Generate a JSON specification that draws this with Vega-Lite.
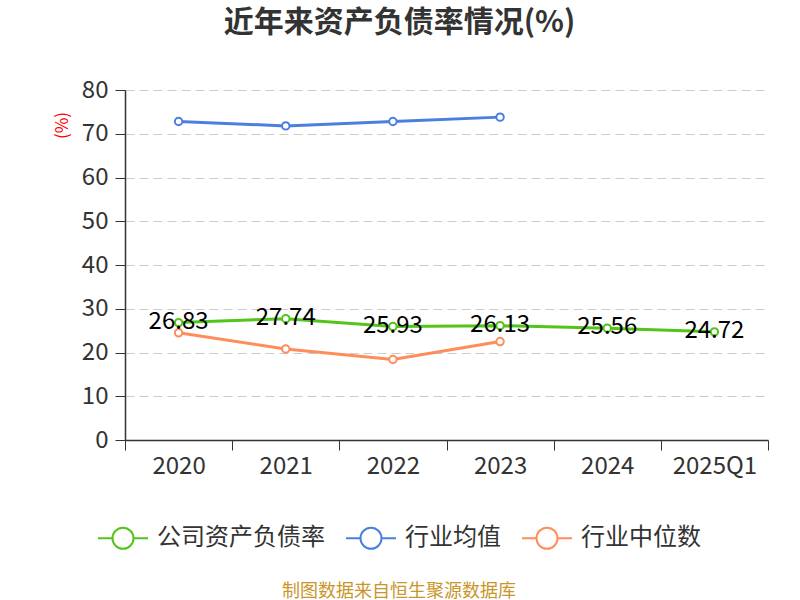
{
  "$schema": "https://vega.github.io/schema/vega-lite/v6.json",
  "width": 643,
  "height": 350,
  "autosize": {"type": "none"},
  "padding": {"left": 125, "top": 90, "right": 32, "bottom": 160},
  "title": {
    "text": "近年来资产负债率情况(%)",
    "fontSize": 30,
    "fontWeight": "bold",
    "color": "#333333",
    "anchor": "middle",
    "frame": "group",
    "dx": -47,
    "offset": 40
  },
  "data": {
    "values": [
      {"year": "2020", "series": "公司资产负债率", "value": 26.83},
      {"year": "2021", "series": "公司资产负债率", "value": 27.74},
      {"year": "2022", "series": "公司资产负债率", "value": 25.93},
      {"year": "2023", "series": "公司资产负债率", "value": 26.13},
      {"year": "2024", "series": "公司资产负债率", "value": 25.56},
      {"year": "2025Q1", "series": "公司资产负债率", "value": 24.72},
      {"year": "2020", "series": "行业均值", "value": 72.8},
      {"year": "2021", "series": "行业均值", "value": 71.8},
      {"year": "2022", "series": "行业均值", "value": 72.8},
      {"year": "2023", "series": "行业均值", "value": 73.8},
      {"year": "2020", "series": "行业中位数", "value": 24.5},
      {"year": "2021", "series": "行业中位数", "value": 20.8},
      {"year": "2022", "series": "行业中位数", "value": 18.4},
      {"year": "2023", "series": "行业中位数", "value": 22.5}
    ]
  },
  "encoding": {
    "x": {
      "field": "year",
      "type": "ordinal",
      "bandPosition": 0.5,
      "scale": {"type": "band", "paddingInner": 0, "paddingOuter": 0},
      "axis": {
        "title": null,
        "labelAngle": 0,
        "labelFontSize": 24,
        "labelColor": "#333333",
        "labelPadding": 4,
        "tickBand": "extent",
        "tickSize": 10,
        "tickColor": "#333333",
        "domainColor": "#333333",
        "domainWidth": 1.5,
        "grid": false
      }
    },
    "y": {
      "field": "value",
      "type": "quantitative",
      "scale": {"domain": [0, 80]},
      "axis": {
        "title": "(%)",
        "titleColor": "red",
        "titleFontSize": 17,
        "titleFontWeight": "normal",
        "titleX": -54,
        "titleY": 35,
        "titleAngle": -90,
        "values": [0, 10, 20, 30, 40, 50, 60, 70, 80],
        "labelFontSize": 24,
        "labelColor": "#333333",
        "labelPadding": 7,
        "tickSize": 10,
        "tickColor": "#333333",
        "domainColor": "#333333",
        "domainWidth": 1.5,
        "gridColor": "#cccccc",
        "gridDash": [9, 5],
        "gridWidth": 1
      }
    },
    "color": {
      "field": "series",
      "type": "nominal",
      "scale": {
        "domain": ["公司资产负债率", "行业均值", "行业中位数"],
        "range": ["#52c41a", "#4a7fe0", "#ff8c5a"]
      },
      "legend": {
        "orient": "none",
        "legendX": -28,
        "legendY": 422,
        "direction": "horizontal",
        "title": "制图数据来自恒生聚源数据库",
        "titleOrient": "bottom",
        "titleAnchor": "middle",
        "titleColor": "#c8962a",
        "titleFontSize": 18,
        "titleFontWeight": "normal",
        "titleLimit": 1000,
        "titlePadding": 30,
        "labelFontSize": 24,
        "labelColor": "#333333",
        "labelLimit": 1000,
        "labelOffset": 8,
        "columnPadding": 17,
        "symbolType": "M-1,0L-0.42,0M0.42,0L1,0M-0.42,0A0.42,0.42,0,1,0,0.42,0A0.42,0.42,0,1,0,-0.42,0",
        "symbolSize": 2500,
        "symbolStrokeWidth": 2,
        "symbolFillColor": "white"
      }
    }
  },
  "layer": [
    {
      "mark": {"type": "line", "strokeWidth": 3}
    },
    {
      "mark": {"type": "point", "filled": false, "fill": "white", "size": 55, "strokeWidth": 2, "opacity": 1}
    },
    {
      "transform": [{"filter": "datum.series == '公司资产负债率'"}],
      "mark": {"type": "text", "fontSize": 24, "align": "center", "baseline": "middle", "dy": -1},
      "encoding": {
        "text": {"field": "value", "type": "quantitative", "format": ".2f"},
        "color": {"value": "black"}
      }
    }
  ],
  "config": {
    "font": "Noto Sans CJK SC",
    "view": {"stroke": null}
  }
}
